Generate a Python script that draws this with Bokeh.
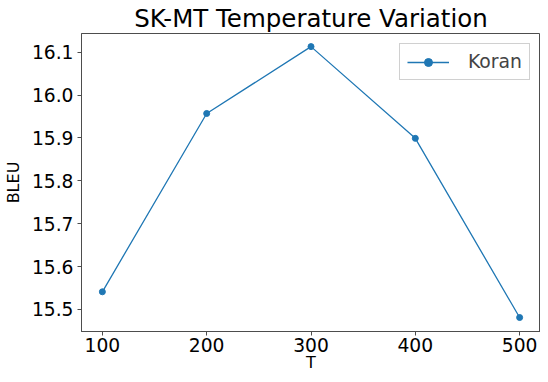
from bokeh.plotting import figure
from bokeh.embed import file_html
from bokeh.resources import INLINE
from bokeh.models import Range1d, FixedTicker, Legend, LegendItem, NumeralTickFormatter

T = [100, 200, 300, 400, 500]
bleu = [15.541, 15.957, 16.113, 15.899, 15.481]
x_ticks = [100, 200, 300, 400, 500]
y_ticks = [15.5, 15.6, 15.7, 15.8, 15.9, 16.0, 16.1]

FONT = "DejaVu Sans"
COLOR = "#1f77b4"

p = figure(width=540, height=374, output_backend="svg", toolbar_location=None,
           x_range=Range1d(80, 520), y_range=Range1d(15.4484, 16.1436),
           min_border_left=0, min_border_right=0, min_border_top=0, min_border_bottom=0,
           min_border=0)

p.title.text = "SK-MT Temperature Variation"
p.title.align = "center"
p.title.text_font = FONT
p.title.text_font_size = "24.5px"
p.title.text_font_style = "normal"
p.title.text_color = "black"
p.title.standoff = 2
p.title.offset = 0

line = p.line(T, bleu, line_color=COLOR, line_width=1.3)
pts = p.scatter(T, bleu, size=6, fill_color=COLOR, line_color=COLOR)

p.xgrid.visible = False
p.ygrid.visible = False
p.outline_line_color = "#4d4d4d"
p.outline_line_width = 1

for ax in (p.xaxis[0], p.yaxis[0]):
    ax.major_label_text_font = FONT
    ax.major_label_text_font_size = "18.7px"
    ax.major_label_text_color = "black"
    ax.axis_label_text_font = FONT
    ax.axis_label_text_font_size = "16px"
    ax.axis_label_text_font_style = "normal"
    ax.axis_label_text_color = "black"
    ax.minor_tick_line_color = None
    ax.major_tick_out = 4
    ax.major_tick_in = 0
    ax.axis_line_color = "#4d4d4d"
    ax.major_tick_line_color = "#4d4d4d"

p.xaxis[0].ticker = FixedTicker(ticks=x_ticks)
p.yaxis[0].ticker = FixedTicker(ticks=y_ticks)
p.yaxis[0].formatter = NumeralTickFormatter(format="0.0")
p.xaxis[0].axis_label = "T"
p.yaxis[0].axis_label = "BLEU"
p.xaxis[0].axis_label_standoff = -2
p.yaxis[0].axis_label_standoff = 6
p.xaxis[0].major_label_standoff = 2
p.yaxis[0].major_label_standoff = 4

legend = Legend(items=[LegendItem(label="Koran", renderers=[line, pts])],
                location="top_right")
legend.label_text_font = FONT
legend.label_text_font_size = "18.8px"
legend.border_line_color = "#d0d0d0"
legend.border_line_alpha = 1
legend.background_fill_alpha = 0.8
legend.glyph_width = 42
legend.label_standoff = 19
legend.margin = 10
legend.padding = 7
legend.spacing = 0
p.add_layout(legend)

open("out.html", "w").write(file_html(p, INLINE))
